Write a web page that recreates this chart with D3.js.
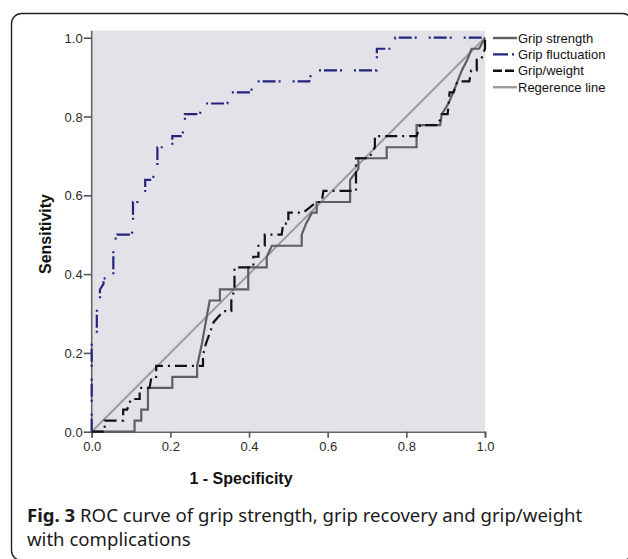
<!DOCTYPE html>
<html>
<head>
<meta charset="utf-8">
<script src="https://cdn.jsdelivr.net/npm/d3@7"></script>
<style>
  html, body { margin: 0; padding: 0; background: #fff; }
  svg { display: block; }
</style>
</head>
<body>
<svg id="chart" width="628" height="559"></svg>
<script>
// ---- Data ----
const seriesNames = ["Grip strength", "Grip fluctuation", "Grip/weight", "Regerence line"];
const xTicks = [0, 0.2, 0.4, 0.6, 0.8, 1.0];
const yTicks = [0, 0.2, 0.4, 0.6, 0.8, 1.0];

const gripStrength = [
  [0,0],[0.109,0],[0.109,0.028],[0.126,0.028],[0.126,0.056],[0.143,0.056],[0.143,0.111],
  [0.205,0.111],[0.205,0.139],[0.268,0.139],[0.268,0.167],[0.28,0.222],[0.29,0.278],[0.30,0.333],
  [0.326,0.333],[0.326,0.361],[0.398,0.361],[0.398,0.417],[0.445,0.417],[0.445,0.444],[0.458,0.472],
  [0.534,0.472],[0.534,0.5],[0.545,0.528],[0.56,0.556],[0.572,0.556],[0.572,0.583],[0.657,0.583],
  [0.657,0.639],[0.678,0.667],[0.678,0.694],[0.75,0.694],[0.75,0.722],[0.826,0.722],[0.826,0.778],
  [0.886,0.778],[0.89,0.806],[0.907,0.833],[0.919,0.861],[0.93,0.889],[0.941,0.917],[0.955,0.944],
  [0.966,0.972],[0.985,0.972],[1,1]
];

const gripFluctuation = [
  [0,0],[0,0.222],[0.013,0.25],[0.013,0.306],[0.021,0.333],[0.021,0.361],[0.03,0.375],[0.03,0.389],
  [0.055,0.389],[0.055,0.472],[0.064,0.5],[0.102,0.5],[0.105,0.528],[0.105,0.583],[0.118,0.583],
  [0.136,0.611],[0.136,0.639],[0.153,0.639],[0.167,0.667],[0.167,0.722],[0.205,0.722],[0.205,0.75],
  [0.229,0.75],[0.237,0.778],[0.237,0.806],[0.275,0.806],[0.282,0.833],[0.345,0.833],[0.35,0.861],
  [0.405,0.861],[0.41,0.889],[0.553,0.889],[0.56,0.917],[0.725,0.917],[0.725,0.972],[0.765,0.972],
  [0.772,1],[1,1]
];

const gripWeight = [
  [0,0],[0.033,0],[0.033,0.028],[0.08,0.028],[0.08,0.056],[0.09,0.056],[0.1,0.083],[0.122,0.083],
  [0.122,0.111],[0.147,0.111],[0.152,0.139],[0.164,0.139],[0.164,0.167],[0.283,0.167],[0.283,0.194],
  [0.29,0.222],[0.3,0.25],[0.31,0.278],[0.335,0.306],[0.355,0.306],[0.355,0.333],[0.363,0.361],
  [0.363,0.417],[0.411,0.417],[0.411,0.444],[0.424,0.444],[0.424,0.472],[0.44,0.472],[0.44,0.5],
  [0.483,0.5],[0.487,0.528],[0.5,0.528],[0.5,0.556],[0.538,0.556],[0.572,0.583],[0.585,0.583],
  [0.589,0.611],[0.672,0.611],[0.672,0.694],[0.705,0.694],[0.72,0.722],[0.72,0.75],[0.826,0.75],
  [0.835,0.778],[0.881,0.778],[0.89,0.806],[0.905,0.806],[0.91,0.861],[0.92,0.861],[0.93,0.889],
  [0.96,0.889],[0.965,0.917],[0.979,0.917],[0.979,0.944],[0.99,0.944],[1,0.972],[1,1]
];

const referenceLine = [[0,0],[1,1]];

// ---- Styles ----
const styles = [
  { color: "#5f5f5f", dash: null },
  { color: "#24247e", dash: "13,3,2,12,2,3" },
  { color: "#111111", dash: "12,5,2,5" },
  { color: "#9c9c9c", dash: null }
];
const seriesData = [gripStrength, gripFluctuation, gripWeight, referenceLine];

// ---- Layout ----
const svg = d3.select("#chart");
const plot = { left: 91.7, right: 485, top: 37.7, bottom: 431.7, bgTop: 30.7 };

const x = d3.scaleLinear().domain([0, 1]).range([plot.left, plot.right]);
const y = d3.scaleLinear().domain([0, 1]).range([plot.bottom, plot.top]);

// frame
svg.append("rect")
  .attr("x", 11.5).attr("y", 13.5).attr("width", 621).attr("height", 547)
  .attr("rx", 10).attr("ry", 10)
  .attr("fill", "none").attr("stroke", "#222").attr("stroke-width", 1.4);

// plot background
svg.append("rect")
  .attr("x", plot.left).attr("y", plot.bgTop)
  .attr("width", plot.right - plot.left).attr("height", plot.bottom - plot.bgTop)
  .attr("fill", "#e2e2e8");

// axes
const fmt = d3.format(".1f");
const xAxis = svg.append("g")
  .attr("transform", `translate(0,${plot.bottom})`)
  .call(d3.axisBottom(x).tickValues(xTicks).tickFormat(fmt).tickSizeOuter(0).tickSize(6).tickPadding(4));
const yAxis = svg.append("g")
  .attr("transform", `translate(${plot.left},0)`)
  .call(d3.axisLeft(y).tickValues(yTicks).tickFormat(fmt).tickSizeOuter(0).tickSize(8).tickPadding(1));

[xAxis, yAxis].forEach(g => {
  g.attr("font-family", "'Liberation Sans', Arial, sans-serif").attr("font-size", 13);
  g.selectAll("text").attr("fill", "#2a2a2a");
  g.selectAll("line").attr("stroke", "#555").attr("stroke-width", 1.6);
  g.select(".domain").attr("stroke", "#666").attr("stroke-width", 1.6);
});
// extend y axis line to top of background
yAxis.select(".domain").attr("d", `M0,${plot.bgTop}V${plot.bottom}`);
xAxis.selectAll(".tick text").attr("dy", "0.71em");
yAxis.selectAll(".tick text").attr("dy", "0.35em");

// curves
const line = d3.line().x(d => x(d[0])).y(d => y(d[1]));
const order = [3, 0, 2, 1];
order.forEach(i => {
  const p = svg.append("path")
    .datum(seriesData[i])
    .attr("d", line)
    .attr("fill", "none")
    .attr("stroke", styles[i].color)
    .attr("stroke-width", i === 3 ? 2 : 2.2)
    .attr("stroke-linejoin", "miter");
  if (styles[i].dash) p.attr("stroke-dasharray", styles[i].dash);
});

// axis titles
svg.append("text")
  .attr("x", 241).attr("y", 484)
  .attr("text-anchor", "middle")
  .attr("font-family", "'Liberation Sans', Arial, sans-serif")
  .attr("font-weight", "bold").attr("font-size", 16).attr("fill", "#111")
  .text("1 - Specificity");

svg.append("text")
  .attr("transform", `translate(51,234) rotate(-90)`)
  .attr("text-anchor", "middle")
  .attr("font-family", "'Liberation Sans', Arial, sans-serif")
  .attr("font-weight", "bold").attr("font-size", 16).attr("fill", "#111")
  .text("Sensitivity");

// legend
const legend = svg.append("g").attr("transform", "translate(493,38)");
const legendDash = [null, "15,4,2,10", "9,3", null];
seriesNames.forEach((name, i) => {
  const row = legend.append("g").attr("transform", `translate(0,${i * 16.4})`);
  const l = row.append("line")
    .attr("x1", 0).attr("x2", 24).attr("y1", 0).attr("y2", 0)
    .attr("stroke", styles[i].color).attr("stroke-width", 2.4);
  if (legendDash[i]) l.attr("stroke-dasharray", legendDash[i]);
  row.append("text")
    .attr("x", 25).attr("y", 0).attr("dy", "0.35em")
    .attr("font-family", "'Liberation Sans', Arial, sans-serif")
    .attr("font-size", 13).attr("fill", "#111")
    .text(name);
});

// caption
const cap = svg.append("text")
  .attr("x", 27).attr("y", 522)
  .attr("font-family", "'Noto Sans', 'Open Sans', sans-serif")
  .attr("font-size", 18.6).attr("fill", "#1a1a1a");
cap.append("tspan").attr("font-weight", "bold").text("Fig. 3");
cap.append("tspan").text(" ROC curve of grip strength, grip recovery and grip/weight");
svg.append("text")
  .attr("x", 27).attr("y", 546)
  .attr("font-family", "'Noto Sans', 'Open Sans', sans-serif")
  .attr("font-size", 18.6).attr("fill", "#1a1a1a")
  .text("with complications");
</script>
</body>
</html>
